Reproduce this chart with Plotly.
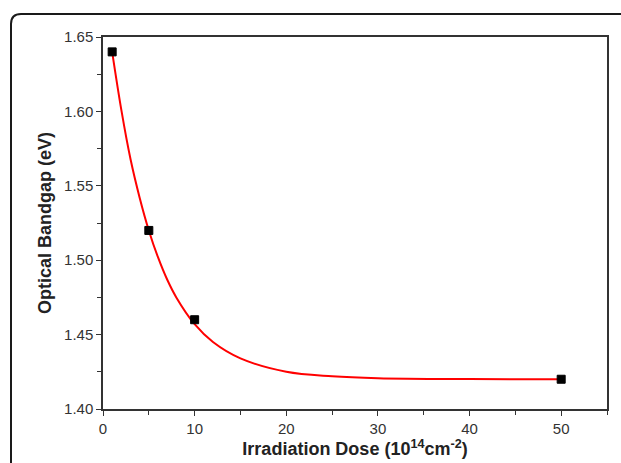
import plotly.graph_objects as go

# measured data points
dose = [1, 5, 10, 50]
bandgap = [1.64, 1.52, 1.46, 1.42]

# fitted curve
fit_x = [1, 2, 3, 4, 5, 6, 7, 8, 10, 12, 15, 20, 25, 30, 40, 50]
fit_y = [1.640, 1.601, 1.568, 1.542, 1.520, 1.502, 1.487, 1.475, 1.457,
         1.445, 1.434, 1.425, 1.422, 1.4207, 1.4201, 1.420]

x_ticks = [0, 10, 20, 30, 40, 50]
y_ticks = [1.40, 1.45, 1.50, 1.55, 1.60, 1.65]

W, H = 621, 463
L, R, T, B = 103, 14, 37, 54
pw, ph = W - L - R, H - T - B
FONT = "Liberation Sans, Arial, sans-serif"

fig = go.Figure()
fig.add_trace(go.Scatter(x=fit_x, y=fit_y, mode="lines", line=dict(color="#ff0000", width=2, shape="spline"),
                         hoverinfo="skip", showlegend=False))
fig.add_trace(go.Scatter(x=dose, y=bandgap, mode="markers",
                         marker=dict(symbol="square", size=8, color="#000000", line=dict(color="#000000", width=1)),
                         showlegend=False))

# rounded frame around the figure (top-left corner visible)
def px2x(p):
    return (p - L) / pw

def py2y(p):
    return 1 - (p - T) / ph

bx, by, r = 11, 14, 10
path = (f"M {px2x(bx)},{py2y(480)} L {px2x(bx)},{py2y(by + r)} "
        f"Q {px2x(bx)},{py2y(by)} {px2x(bx + r)},{py2y(by)} L {px2x(660)},{py2y(by)}")
fig.add_shape(type="path", path=path, xref="paper", yref="paper",
              line=dict(color="#1a1a1a", width=2))

axis_common = dict(showline=True, linecolor="#333333", linewidth=1.5, mirror=True,
                   ticks="outside", ticklen=5, tickwidth=1.3, tickcolor="#333333",
                   showgrid=False, zeroline=False,
                   tickfont=dict(family=FONT, size=15, color="#333333"))

fig.update_xaxes(range=[0, 55], tickvals=x_ticks, ticktext=[str(v) for v in x_ticks],
                 minor=dict(dtick=5, tick0=0, ticks="outside", ticklen=4, tickcolor="#333333", tickwidth=1.3),
                 title=dict(text="<b>Irradiation Dose (10<sup>14</sup>cm<sup>-2</sup>)</b>", standoff=4,
                            font=dict(family=FONT, size=18, color="#222222")),
                 **axis_common)
fig.update_yaxes(range=[1.40, 1.65], tickvals=y_ticks, ticktext=[f"{v:.2f}" for v in y_ticks],
                 minor=dict(dtick=0.025, tick0=1.40, ticks="outside", ticklen=4, tickcolor="#333333", tickwidth=1.3),
                 title=dict(text="<b>Optical Bandgap (eV)</b>", standoff=8,
                            font=dict(family=FONT, size=18, color="#222222")),
                 **axis_common)

fig.update_layout(width=W, height=H, margin=dict(l=L, r=R, t=T, b=B, autoexpand=False),
                  paper_bgcolor="white", plot_bgcolor="white", showlegend=False)

fig.write_html("out.html", config={"displayModeBar": False},
               post_script="document.body.style.margin='0';document.body.style.padding='0';")
